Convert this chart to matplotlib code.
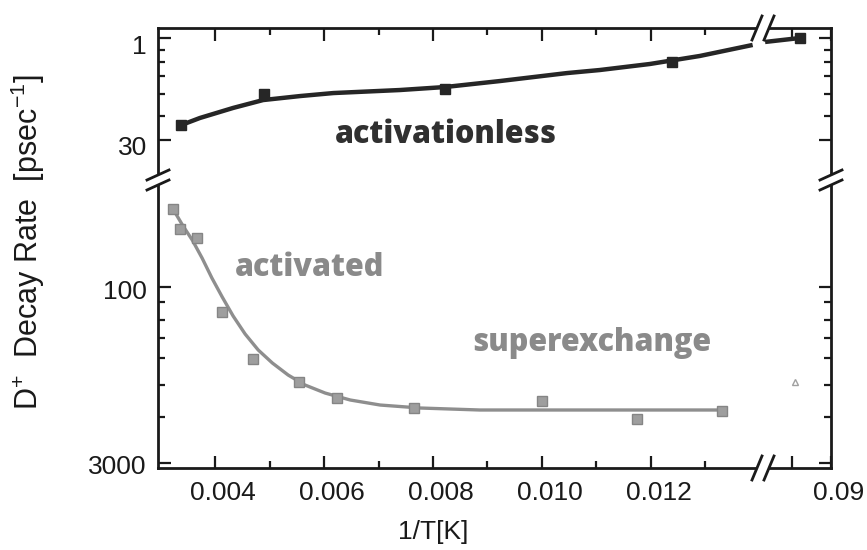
import matplotlib
matplotlib.use("Agg")
import matplotlib.pyplot as plt
import matplotlib.transforms as mtrans
from matplotlib.lines import Line2D
from matplotlib.patches import Polygon
from matplotlib.ticker import FixedLocator, NullFormatter

plt.rcParams['font.family'] = ['Liberation Sans', 'DejaVu Sans']
plt.rcParams['mathtext.fontset'] = 'custom'
plt.rcParams['mathtext.rm'] = 'Liberation Sans'
plt.rcParams['mathtext.it'] = 'Liberation Sans'
plt.rcParams['mathtext.bf'] = 'Liberation Sans:bold'

# ---------------- data (1/T in 1/K, decay value on the axis scale) -------------
# upper panel: activationless (black)
up_pts_x = [0.00338, 0.0049, 0.00822, 0.01239]
up_pts_y = [18.3, 6.5, 5.5, 2.23]
up_pts_x_far = [0.082]
up_pts_y_far = [1.0]
up_fit_x = [0.00338, 0.00372, 0.00433, 0.00488, 0.00556, 0.00617, 0.00739,
            0.00822, 0.00923, 0.01046, 0.01106, 0.01198, 0.0129, 0.01387]
up_fit_y = [18.2, 14.4, 10.3, 7.92, 6.93, 6.27, 5.67,
            5.13, 4.20, 3.22, 2.91, 2.38, 1.82, 1.26]
up_fit_x_far = [0.0731, 0.082]
up_fit_y_far = [1.14, 1.0]

# lower panel: activated / superexchange (gray)
lo_pts_x = [0.00323, 0.00336, 0.00367, 0.00413, 0.0047, 0.00554, 0.00624,
            0.00765, 0.0100, 0.01174, 0.0133]
lo_pts_y = [22.1, 32.6, 38.7, 162, 403, 628, 857, 1040, 908, 1286, 1102]
lo_fit_x = [0.00327, 0.00341, 0.00358, 0.00376, 0.00394, 0.00413, 0.00433,
            0.00455, 0.00479, 0.00505, 0.00534, 0.00565, 0.00602, 0.00648,
            0.00703, 0.00776, 0.00886, 0.0133]
lo_fit_y = [23.9, 30.7, 40.3, 57.1, 84.0, 121.4, 175.3, 248.2, 338, 435,
            549, 666, 778, 890, 981, 1039, 1080, 1080]
lo_far_x = [0.0808]
lo_far_y = [628]

x_major = [0.004, 0.006, 0.008, 0.010, 0.012]
x_major_labels = ['0.004', '0.006', '0.008', '0.010', '0.012']
x_minor = [0.005, 0.007, 0.009, 0.011, 0.013]
x_far_ticks = [0.08, 0.09]
x_far_labels = ['', '0.09']
y_up_major = [1, 30]
y_up_labels = ['1', '30']
y_up_minor = [1.49, 2.23, 3.6, 6.4, 13.5]
y_lo_major = [100, 3000]
y_lo_labels = ['100', '3000']
y_lo_minor = [134, 189, 268, 395, 665, 1236]

# ---------------- layout ----------------
W, H = 867, 550
fig = plt.figure(figsize=(W / 100, H / 100), dpi=100)

pxL, pxXB, pxR = 158, 763, 831
pxT, pxYB, pxB = 28, 180, 468
L, XB, R = pxL / W, pxXB / W, pxR / W
T, YB, B = 1 - pxT / H, 1 - pxYB / H, 1 - pxB / H

ax_ul = fig.add_axes([L, YB, XB - L, T - YB])
ax_ur = fig.add_axes([XB, YB, R - XB, T - YB])
ax_ll = fig.add_axes([L, B, XB - L, YB - B])
ax_lr = fig.add_axes([XB, B, R - XB, YB - B])

xlim_main = (0.00295, 0.01406)
xlim_far = (0.07256, 0.09)
ylim_up = (114, 0.716)
ylim_lo = (3318, 12.6)

for ax in (ax_ul, ax_ur, ax_ll, ax_lr):
    ax.set_yscale('log')
    for s in ax.spines.values():
        s.set_linewidth(2.0)
        s.set_color('#1a1a1a')
    ax.tick_params(which='both', direction='in', width=1.6, color='#1a1a1a',
                   labelsize=19, labelcolor='#1a1a1a')
    ax.tick_params(which='major', length=9)
    ax.tick_params(which='minor', length=5)

for ax in (ax_ul, ax_ur):
    ax.set_ylim(*ylim_up)
    ax.yaxis.set_major_locator(FixedLocator(y_up_major))
    ax.yaxis.set_minor_locator(FixedLocator(y_up_minor))
for ax in (ax_ll, ax_lr):
    ax.set_ylim(*ylim_lo)
    ax.yaxis.set_major_locator(FixedLocator(y_lo_major))
    ax.yaxis.set_minor_locator(FixedLocator(y_lo_minor))
for ax in (ax_ul, ax_ll):
    ax.set_xlim(*xlim_main)
    ax.xaxis.set_major_locator(FixedLocator(x_major))
    ax.xaxis.set_minor_locator(FixedLocator(x_minor))
for ax in (ax_ur, ax_lr):
    ax.set_xlim(*xlim_far)
    ax.xaxis.set_major_locator(FixedLocator(x_far_ticks))
    ax.xaxis.set_minor_locator(FixedLocator([]))

# spines / tick sides
ax_ul.spines['bottom'].set_visible(False); ax_ul.spines['right'].set_visible(False)
ax_ur.spines['bottom'].set_visible(False); ax_ur.spines['left'].set_visible(False)
ax_ll.spines['top'].set_visible(False); ax_ll.spines['right'].set_visible(False)
ax_lr.spines['top'].set_visible(False); ax_lr.spines['left'].set_visible(False)

ax_ul.tick_params(which='both', top=True, bottom=False, left=True, right=False,
                  labeltop=False, labelbottom=False)
ax_ur.tick_params(which='both', top=True, bottom=False, left=False, right=True,
                  labeltop=False, labelbottom=False, labelleft=False, labelright=False)
ax_ll.tick_params(which='both', top=False, bottom=True, left=True, right=False)
ax_lr.tick_params(which='both', top=False, bottom=True, left=False, right=True,
                  labelleft=False, labelright=False)

ax_ul.set_yticklabels(y_up_labels)
ax_ll.set_yticklabels(y_lo_labels)
ax_ll.set_xticklabels(x_major_labels)
ax_lr.set_xticklabels(x_far_labels)
for ax in (ax_ul, ax_ur, ax_ll, ax_lr):
    ax.yaxis.set_minor_formatter(NullFormatter())
for ax in (ax_ll, ax_lr):
    ax.tick_params(axis='x', pad=9)
for ax in (ax_ul, ax_ll):
    ax.tick_params(axis='y', pad=8)

# shift tick labels slightly like in the scan
dx = mtrans.ScaledTranslation(8 / 100, 0, fig.dpi_scale_trans)
for ax in (ax_ll, ax_lr):
    for lab in ax.get_xticklabels():
        lab.set_transform(lab.get_transform() + dx)
dy = mtrans.ScaledTranslation(0, -6 / 100, fig.dpi_scale_trans)
for lab in ax_ul.get_yticklabels():
    lab.set_transform(lab.get_transform() + dy)
dy2 = mtrans.ScaledTranslation(0, -2 / 100, fig.dpi_scale_trans)
for lab in ax_ll.get_yticklabels():
    lab.set_transform(lab.get_transform() + dy2)

# ---------------- data marks ----------------
black = '#262626'
gray = '#8e8e8e'
ax_ul.plot(up_fit_x, up_fit_y, color=black, lw=3.2, solid_capstyle='butt',
           solid_joinstyle='round', zorder=2)
ax_ul.plot(up_pts_x, up_pts_y, 's', color=black, ms=7.5, zorder=3)
ax_ur.plot(up_fit_x_far, up_fit_y_far, color=black, lw=3.2, solid_capstyle='butt', zorder=2)
ax_ur.plot(up_pts_x_far, up_pts_y_far, 's', color=black, ms=7.5, zorder=3, clip_on=False)

ax_ll.plot(lo_fit_x, lo_fit_y, color=gray, lw=2.4, solid_joinstyle='round', zorder=2)
ax_ll.plot(lo_pts_x, lo_pts_y, 's', color='#9e9e9e', mec='#858585', mew=1.0, ms=7, zorder=3)
ax_lr.plot(lo_far_x, lo_far_y, '^', mfc='none', mec='#a0a0a0', mew=1.0, ms=5)

# ---------------- annotations ----------------
ax_ul.text(0.00824, 25.5, 'activationless', family=['Open Sans', 'DejaVu Sans'],
           fontweight='heavy', fontsize=22, color='#303030', ha='center', va='center')
ax_ll.text(0.00574, 69.3, 'activated', family=['Open Sans', 'DejaVu Sans'],
           fontweight='heavy', fontsize=22, color='#8a8a8a', ha='center', va='center')
ax_ll.text(0.01092, 295, 'superexchange', family=['Open Sans', 'DejaVu Sans'],
           fontweight='heavy', fontsize=22, color='#8a8a8a', ha='center', va='center')

fig.text(433 / W, 1 - 532 / H, '1/T[K]', fontsize=19, ha='center', va='center',
         color='#1a1a1a')
fig.text(28 / W, 1 - 242 / H, r'D$^{+}$  Decay Rate  [psec$^{-1}$]', fontsize=22,
         rotation=90, ha='center', va='center', color='#1a1a1a')

# ---------------- break marks ----------------
def fp(x, y):
    return (x / W, 1 - y / H)

def xbreak(y):
    c1, c2 = pxXB - 6, pxXB + 6
    gap = Polygon([fp(c1 - 4, y + 10), fp(c1 + 4, y - 10), fp(c2 + 4, y - 10), fp(c2 - 4, y + 10)],
                  closed=True, transform=fig.transFigure, facecolor='white', edgecolor='none',
                  zorder=10)
    fig.add_artist(gap)
    for c in (c1, c2):
        x0, y0 = fp(c - 5, y + 12)
        x1, y1 = fp(c + 5, y - 12)
        fig.add_artist(Line2D([x0, x1], [y0, y1], transform=fig.transFigure,
                              color='#1a1a1a', lw=2.0, zorder=11))

def ybreak(x):
    c1, c2 = pxYB + 5, pxYB - 5
    gap = Polygon([fp(x - 8, c1 + 3), fp(x + 8, c1 - 3), fp(x + 8, c2 - 3), fp(x - 8, c2 + 3)],
                  closed=True, transform=fig.transFigure, facecolor='white', edgecolor='none',
                  zorder=10)
    fig.add_artist(gap)
    for c in (c1, c2):
        x0, y0 = fp(x - 11, c + 5)
        x1, y1 = fp(x + 11, c - 5)
        fig.add_artist(Line2D([x0, x1], [y0, y1], transform=fig.transFigure,
                              color='#1a1a1a', lw=2.0, zorder=11))

xbreak(pxT)
xbreak(pxB)
ybreak(pxL)
ybreak(pxR)

fig.savefig('out.png', dpi=100)
